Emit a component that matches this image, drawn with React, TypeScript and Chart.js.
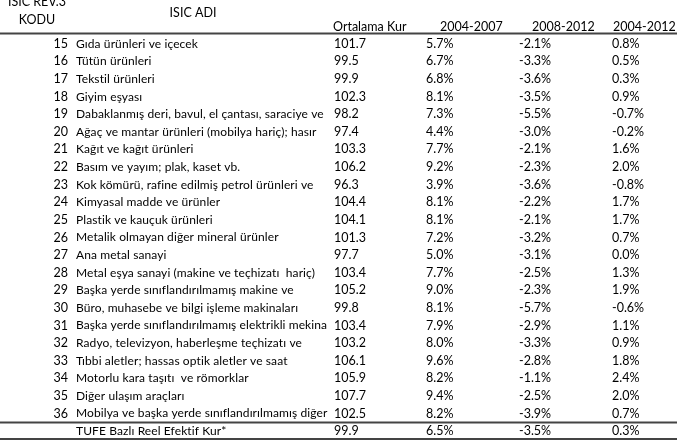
import React, { useEffect, useRef } from "react";
import { Chart, registerables } from "chart.js";

Chart.register(...registerables);

const codes = ["15","16","17","18","19","20","21","22","23","24","25","26","27","28","29","30","31","32","33","34","35","36",""];
const names = [
  "Gıda ürünleri ve içecek",
  "Tütün ürünleri",
  "Tekstil ürünleri",
  "Giyim eşyası",
  "Dabaklanmış deri, bavul, el çantası, saraciye ve",
  "Ağaç ve mantar ürünleri (mobilya hariç); hasır",
  "Kağıt ve kağıt ürünleri",
  "Basım ve yayım; plak, kaset vb.",
  "Kok kömürü, rafine edilmiş petrol ürünleri ve",
  "Kimyasal madde ve ürünler",
  "Plastik ve kauçuk ürünleri",
  "Metalik olmayan diğer mineral ürünler",
  "Ana metal sanayi",
  "Metal eşya sanayi (makine ve teçhizatı  hariç)",
  "Başka yerde sınıflandırılmamış makine ve",
  "Büro, muhasebe ve bilgi işleme makinaları",
  "Başka yerde sınıflandırılmamış elektrikli mekina",
  "Radyo, televizyon, haberleşme teçhizatı ve",
  "Tıbbi aletler; hassas optik aletler ve saat",
  "Motorlu kara taşıtı  ve römorklar",
  "Diğer ulaşım araçları",
  "Mobilya ve başka yerde sınıflandırılmamış diğer",
  "TUFE Bazlı Reel Efektif Kur*",
];
const ortalamaKur = [101.7, 99.5, 99.9, 102.3, 98.2, 97.4, 103.3, 106.2, 96.3, 104.4, 104.1, 101.3, 97.7, 103.4, 105.2, 99.8, 103.4, 103.2, 106.1, 105.9, 107.7, 102.5, 99.9];
const p2004_2007 = [5.7, 6.7, 6.8, 8.1, 7.3, 4.4, 7.7, 9.2, 3.9, 8.1, 8.1, 7.2, 5.0, 7.7, 9.0, 8.1, 7.9, 8.0, 9.6, 8.2, 9.4, 8.2, 6.5];
const p2008_2012 = [-2.1, -3.3, -3.6, -3.5, -5.5, -3.0, -2.1, -2.3, -3.6, -2.2, -2.1, -3.2, -3.1, -2.5, -2.3, -5.7, -2.9, -3.3, -2.8, -1.1, -2.5, -3.9, -3.5];
const p2004_2012 = [0.8, 0.5, 0.3, 0.9, -0.7, -0.2, 1.6, 2.0, -0.8, 1.7, 1.7, 0.7, 0.0, 1.3, 1.9, -0.6, 1.1, 0.9, 1.8, 2.4, 2.0, 0.7, 0.3];
const headers = ["ISIC REV.3", "KODU", "ISIC ADI", "Ortalama Kur", "2004-2007", "2008-2012", "2004-2012"];

const FONT = "12.5px Lato, 'Open Sans', sans-serif";
const NAME_FONT = "12px Lato, 'Open Sans', sans-serif";

const tablePlugin = {
  id: "tablePlugin",
  afterDraw(chart: any) {
    const ctx = chart.ctx;
    const y = chart.scales.y;
    const half = (y.getPixelForValue(1) - y.getPixelForValue(0)) / 2;
    ctx.save();
    ctx.fillStyle = "#000";
    ctx.font = FONT;
    ctx.textBaseline = "middle";
    // headers
    ctx.textAlign = "center";
    ctx.fillText(headers[0], 37, 2);
    ctx.fillText(headers[1], 37, 20);
    ctx.fillText(headers[2], 193, 13);
    ctx.textAlign = "left";
    ctx.fillText(headers[3], 333, 27);
    ctx.fillText(headers[4], 440, 27);
    ctx.fillText(headers[5], 532, 27);
    ctx.fillText(headers[6], 613, 27);

    for (let i = 0; i < names.length; i++) {
      const yc = y.getPixelForValue(i);
      ctx.font = FONT;
      ctx.textAlign = "right";
      ctx.fillText(codes[i], 68, yc);
      ctx.textAlign = "left";
      ctx.fillText(ortalamaKur[i].toFixed(1), 334, yc);
      ctx.fillText(p2004_2007[i].toFixed(1) + "%", 426, yc);
      ctx.fillText(p2008_2012[i].toFixed(1) + "%", 519, yc);
      ctx.fillText(p2004_2012[i].toFixed(1) + "%", 612, yc);
      ctx.save();
      ctx.beginPath();
      ctx.rect(70, yc - half, 260, half * 2);
      ctx.clip();
      ctx.font = NAME_FONT;
      try { ctx.letterSpacing = "0.1px"; } catch (e) {}
      ctx.fillText(names[i], 76, yc);
      ctx.restore();
    }

    const last = names.length - 1;
    const lines = [
      y.getPixelForValue(0) - half - 1.5,
      y.getPixelForValue(last) - half,
      y.getPixelForValue(last) + half - 1,
    ];
    ctx.strokeStyle = "#444";
    ctx.lineWidth = 2;
    for (const ly of lines) {
      ctx.beginPath();
      ctx.moveTo(0, ly);
      ctx.lineTo(677, ly);
      ctx.stroke();
    }
    ctx.restore();
  },
};

export default function App() {
  const ref = useRef<HTMLCanvasElement>(null);
  useEffect(() => {
    document.body.style.margin = "0";
    const chart = new Chart(ref.current!, {
      type: "bar",
      data: {
        labels: names,
        datasets: [{ data: ortalamaKur, backgroundColor: "rgba(0,0,0,0)" }],
      },
      options: {
        indexAxis: "y",
        animation: false,
        responsive: false,
        layout: { padding: { top: 35, bottom: 2, left: 0, right: 0 } },
        plugins: { legend: { display: false }, tooltip: { enabled: false } },
        scales: {
          x: { display: false, min: 0, max: 120 },
          y: { display: false },
        },
      },
      plugins: [tablePlugin],
    } as any);
    return () => chart.destroy();
  }, []);
  return <canvas ref={ref} width={698} height={442} />;
}
